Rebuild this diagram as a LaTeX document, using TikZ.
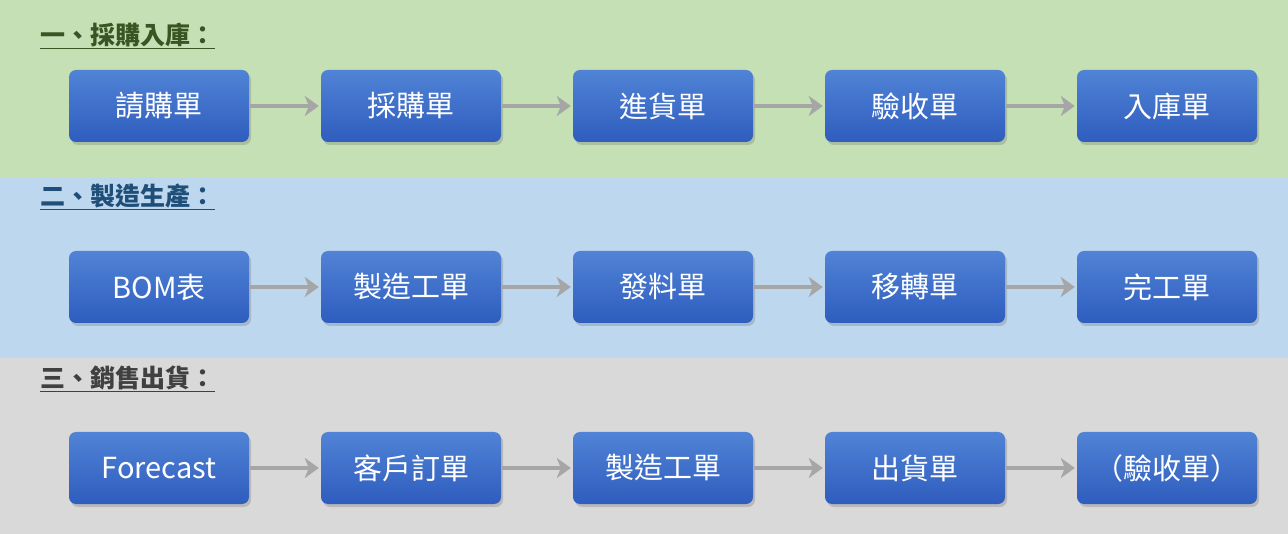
\documentclass[tikz,border=0pt]{standalone}
\usepackage{fontspec}
\setmainfont{Noto Sans CJK TC}
\usetikzlibrary{arrows.meta,shadows}
\definecolor{bgG}{HTML}{C5E0B4}
\definecolor{bgB}{HTML}{BDD7EE}
\definecolor{bgY}{HTML}{D9D9D9}
\definecolor{boxT}{HTML}{5183D6}
\definecolor{boxB}{HTML}{2E5DBE}
\definecolor{arr}{HTML}{A6A6A6}
\definecolor{hG}{HTML}{375623}
\definecolor{hB}{HTML}{1F4E79}
\definecolor{hY}{HTML}{404040}
\begin{document}
\begin{tikzpicture}[x=1pt,y=-1pt,
  box/.style={rounded corners=7pt,minimum width=180pt,minimum height=72pt,top color=boxT,bottom color=boxB,draw=none,text=white,font=\fontsize{29pt}{31pt}\selectfont,drop shadow={shadow xshift=2pt,shadow yshift=-3pt,opacity=0.35}},
  hd/.style={anchor=west,inner sep=0pt,font=\bfseries\fontsize{25pt}{27pt}\selectfont},
  ar/.style={draw=arr,line width=4.5pt,-{Stealth[length=14pt,width=20pt,inset=4pt]},shorten <=1pt,shorten >=2pt}]
\useasboundingbox (0,0) rectangle (1288,534);
\fill[bgG] (0,0) rectangle (1288,178);
\fill[bgB] (0,178) rectangle (1288,358);
\fill[bgY] (0,358) rectangle (1288,534);
\node[hd,text=hG] (h1) at (40,36) {\underline{一、採購入庫：}};
\node[hd,text=hB] (h2) at (40,197) {\underline{二、製造生產：}};
\node[hd,text=hY] (h3) at (40,379) {\underline{三、銷售出貨：}};
\foreach \r/\y/\a/\b/\c/\d/\e in {1/106/請購單/採購單/進貨單/驗收單/入庫單,
  2/287/BOM表/製造工單/發料單/移轉單/完工單,
  3/468/Forecast/客戶訂單/製造工單/出貨單/（驗收單）}{
  \node[box] (b\r1) at (159,\y) {\a};
  \node[box] (b\r2) at (411,\y) {\b};
  \node[box] (b\r3) at (663,\y) {\c};
  \node[box] (b\r4) at (915,\y) {\d};
  \node[box] (b\r5) at (1167,\y) {\e};
  \draw[ar] (b\r1) -- (b\r2);
  \draw[ar] (b\r2) -- (b\r3);
  \draw[ar] (b\r3) -- (b\r4);
  \draw[ar] (b\r4) -- (b\r5);
}
\end{tikzpicture}
\end{document}
